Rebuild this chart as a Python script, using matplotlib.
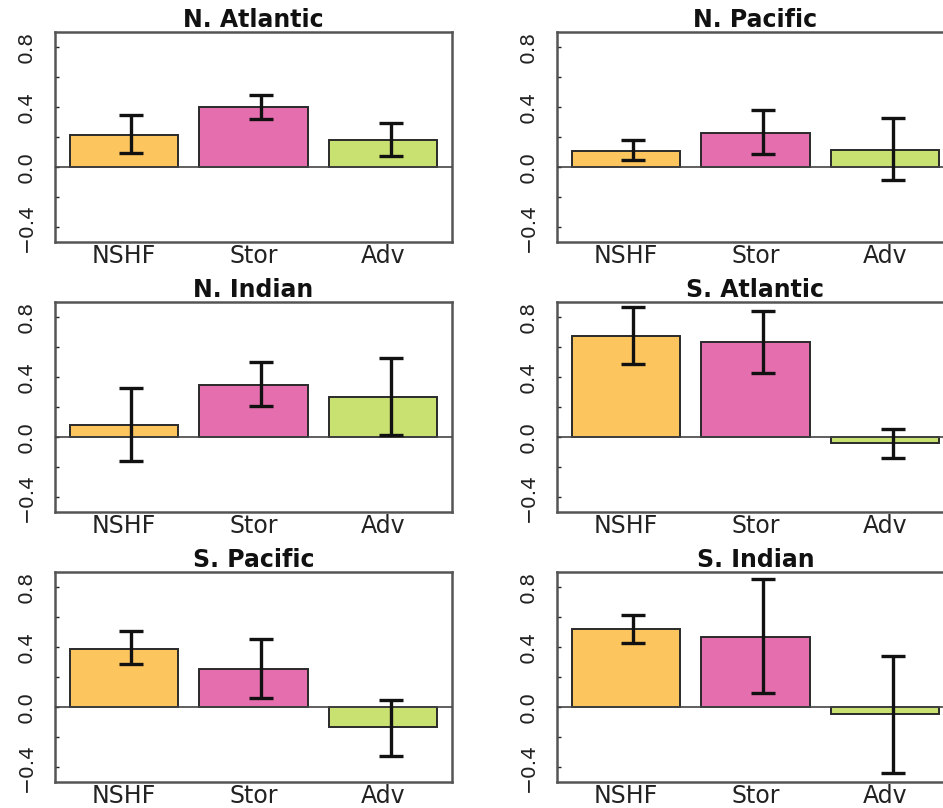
import numpy as np
import matplotlib
matplotlib.use("Agg")
import matplotlib.pyplot as plt

regions = ["N. Atlantic", "N. Pacific", "N. Indian",
           "S. Atlantic", "S. Pacific", "S. Indian"]
terms = ["NSHF", "Stor", "Adv"]

# regression coefficient per region, one array per term
nshf = [0.215, 0.11, 0.08, 0.675, 0.39, 0.52]
stor = [0.40, 0.23, 0.35, 0.635, 0.255, 0.47]
adv = [0.18, 0.115, 0.265, -0.04, -0.135, -0.045]

# confidence bounds (lower, upper)
nshf_lo = [0.093, 0.044, -0.16, 0.489, 0.289, 0.427]
nshf_hi = [0.349, 0.182, 0.327, 0.867, 0.504, 0.616]
stor_lo = [0.318, 0.084, 0.207, 0.427, 0.062, 0.091]
stor_hi = [0.482, 0.378, 0.50, 0.842, 0.453, 0.853]
adv_lo = [0.073, -0.089, 0.016, -0.14, -0.327, -0.44]
adv_hi = [0.296, 0.327, 0.529, 0.056, 0.049, 0.34]

cols = ["#FDC55E", "#E56EAE", "#C9E171"]

W, H = 943, 808
fig = plt.figure(figsize=(W / 100, H / 100), dpi=100)

# panel boxes in pixels: left, top, width, height
lefts = [55, 557]
tops = [32, 302, 572]
pw, ph = 397, 210

xpos = np.array([0.7, 1.9, 3.1])

for k, reg in enumerate(regions):
    r, c = divmod(k, 2)
    ax = fig.add_axes([lefts[c] / W, 1 - (tops[r] + ph) / H, pw / W, ph / H])

    means = np.array([nshf[k], stor[k], adv[k]])
    lo = np.array([nshf_lo[k], stor_lo[k], adv_lo[k]])
    hi = np.array([nshf_hi[k], stor_hi[k], adv_hi[k]])

    ax.bar(xpos, means, width=1.0, color=cols, edgecolor="#2a2a2a",
           linewidth=1.4, zorder=2)
    ax.axhline(0, color="#444444", lw=1.2, zorder=3)
    ex = xpos + 0.07
    ax.errorbar(ex, (lo + hi) / 2, yerr=(hi - lo) / 2, fmt="none",
                ecolor="#111111", elinewidth=2.4, capsize=8.5, capthick=2.4,
                zorder=4)

    ax.set_xlim(0.064, 3.736)
    ax.set_ylim(-0.5, 0.9)
    ax.set_yticks([-0.4, 0.0, 0.4, 0.8])
    ax.set_yticklabels(["\u22120.4", "0.0", "0.4", "0.8"], rotation=90,
                       va="center", fontsize=14.5, color="#222222")
    ax.set_yticks([-0.2, 0.2, 0.6], minor=True)
    ax.tick_params(axis="y", which="both", direction="in", length=3,
                   width=1, pad=14, color="#222222")
    ax.set_xticks(xpos)
    ax.set_xticklabels(terms, fontsize=17, color="#222222")
    ax.tick_params(axis="x", length=0, pad=1.5)
    for sp in ax.spines.values():
        sp.set_color("#555555")
        sp.set_linewidth(1.8)
    ax.set_title(reg, fontsize=17, fontweight="bold", pad=1, color="#111111")

fig.savefig("out.png", dpi=100)
